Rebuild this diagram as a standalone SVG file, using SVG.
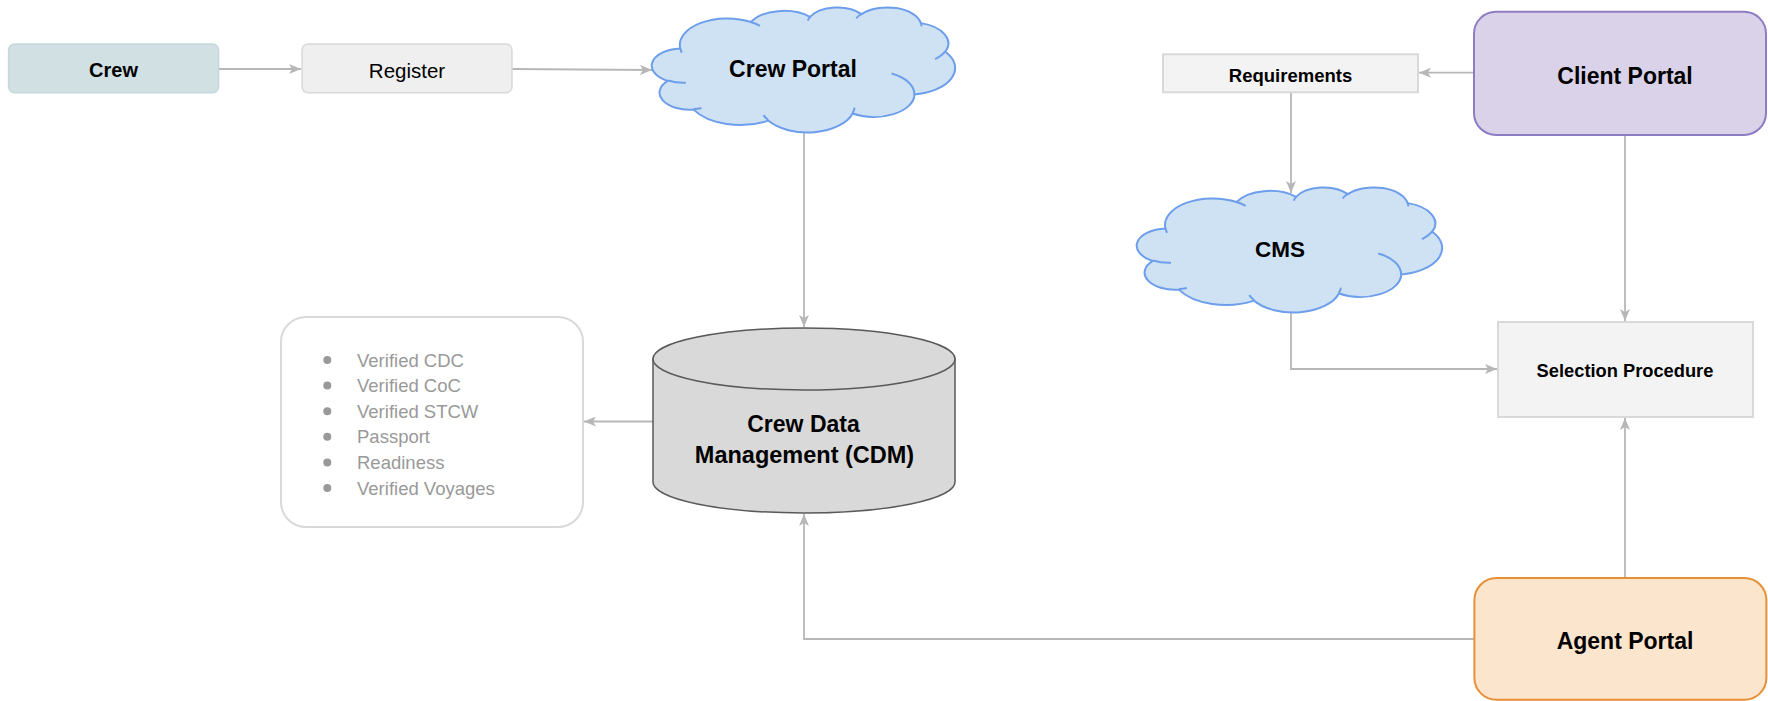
<svg xmlns="http://www.w3.org/2000/svg" width="1768" height="701" viewBox="0 0 1768 701">
<style>
.t{font-family:"Liberation Sans",Arial,sans-serif;text-anchor:middle;dominant-baseline:central;fill:#000}
.b{font-weight:bold}
.li{font-family:"Liberation Sans",Arial,sans-serif;font-size:18.5px;fill:#999999;dominant-baseline:central}
.conn{fill:none;stroke:#b7b7b7;stroke-width:1.8}
.cloud{fill:#cfe2f3;stroke:#6d9eeb;stroke-width:2;vector-effect:non-scaling-stroke}
.cloudin{fill:none;stroke:#6d9eeb;stroke-width:2;vector-effect:non-scaling-stroke}
.grey{fill:#f3f3f3;stroke:#d9d9d9;stroke-width:2}
</style>
<defs>
<marker id="ah" viewBox="0 0 12 10" refX="12" refY="5" markerWidth="12" markerHeight="10" markerUnits="userSpaceOnUse" orient="auto">
<path d="M0,0 L12,5 L0,10 L3,5 z" fill="#b7b7b7"/>
</marker>
</defs>

<g id="connectors">
<path class="conn" d="M219,69 H301" marker-end="url(#ah)"/>
<path class="conn" d="M512,69 L652,70" marker-end="url(#ah)"/>
<path class="conn" d="M804,132 V327" marker-end="url(#ah)"/>
<path class="conn" d="M653,421.5 H584" marker-end="url(#ah)"/>
<path class="conn" d="M1474,639 H804 V514" marker-end="url(#ah)"/>
<path class="conn" d="M1474,72.7 H1419" marker-end="url(#ah)"/>
<path class="conn" d="M1291,93 V193" marker-end="url(#ah)"/>
<path class="conn" d="M1625,135 V321" marker-end="url(#ah)"/>
<path class="conn" d="M1291,311 V369 H1497" marker-end="url(#ah)"/>
<path class="conn" d="M1625,578 V418" marker-end="url(#ah)"/>
</g>

<g id="crew">
<rect x="8.6" y="44" width="210" height="48.7" rx="6" fill="#d0e0e3" stroke="#c6d8dc" stroke-width="1.5"/>
<text class="t b" x="113.5" y="70" font-size="20">Crew</text>
</g>

<g id="register">
<rect x="302" y="44" width="210" height="48.7" rx="6" fill="#efefef" stroke="#d9d9d9" stroke-width="1.5"/>
<text class="t" x="407" y="70" font-size="20.5">Register</text>
</g>

<g id="crew-portal">
<g transform="translate(653,7) scale(0.0069907,0.0028935)">
<path class="cloud" d="M3900,14370 A6753,9190 0 0 1 14005,5202 A5333,7267 0 0 1 22455,3433 A4365,5945 0 0 1 29832,2481 A4857,6595 0 0 1 38317,5575 A5333,7273 0 0 1 41818,15459 A6775,9220 0 0 1 37403,30200 A5785,7867 0 0 1 28554,36810 A6752,9215 0 0 1 16479,39264 A7720,10543 0 0 1 5803,35469 A4360,5918 0 0 1 2112,25547 A4345,5945 0 0 1 3900,14370 Z"/>
<path class="cloudin" d="M4693,26177 A4345,5945 0 0 1 2160,25381 M6928,34899 A4360,5918 0 0 1 5820,35281 M16478,39090 A6752,9215 0 0 1 15810,37349 M28827,34751 A6752,9215 0 0 1 28561,36660 M34129,22954 A5785,7867 0 0 1 37380,30090 M41798,15354 A5333,7273 0 0 1 40350,18030 M38324,5426 A4857,6595 0 0 1 38401,6690 M29078,3952 A4857,6595 0 0 1 29820,2339 M22141,4720 A4365,5945 0 0 1 22500,3331 M14000,5192 A6753,9190 0 0 1 15300,6540 M4127,15789 A6753,9190 0 0 1 3900,14370"/>
</g>
<text class="t b" x="793" y="68.5" font-size="23">Crew Portal</text>
</g>

<g id="requirements">
<rect class="grey" x="1163" y="54.3" width="255" height="38" stroke-width="1.5"/>
<text class="t b" x="1290.5" y="75" font-size="18.5">Requirements</text>
</g>

<g id="client-portal">
<rect x="1474" y="11.7" width="292" height="123.3" rx="22" fill="#d9d2e9" stroke="#8e7cc3" stroke-width="2"/>
<text class="t b" x="1625" y="75.5" font-size="23">Client Portal</text>
</g>

<g id="cms">
<g transform="translate(1138,187) scale(0.0070370,0.0028935)">
<path class="cloud" d="M3900,14370 A6753,9190 0 0 1 14005,5202 A5333,7267 0 0 1 22455,3433 A4365,5945 0 0 1 29832,2481 A4857,6595 0 0 1 38317,5575 A5333,7273 0 0 1 41818,15459 A6775,9220 0 0 1 37403,30200 A5785,7867 0 0 1 28554,36810 A6752,9215 0 0 1 16479,39264 A7720,10543 0 0 1 5803,35469 A4360,5918 0 0 1 2112,25547 A4345,5945 0 0 1 3900,14370 Z"/>
<path class="cloudin" d="M4693,26177 A4345,5945 0 0 1 2160,25381 M6928,34899 A4360,5918 0 0 1 5820,35281 M16478,39090 A6752,9215 0 0 1 15810,37349 M28827,34751 A6752,9215 0 0 1 28561,36660 M34129,22954 A5785,7867 0 0 1 37380,30090 M41798,15354 A5333,7273 0 0 1 40350,18030 M38324,5426 A4857,6595 0 0 1 38401,6690 M29078,3952 A4857,6595 0 0 1 29820,2339 M22141,4720 A4365,5945 0 0 1 22500,3331 M14000,5192 A6753,9190 0 0 1 15300,6540 M4127,15789 A6753,9190 0 0 1 3900,14370"/>
</g>
<text class="t b" x="1280" y="249.5" font-size="22.5">CMS</text>
</g>

<g id="cdm">
<path d="M653,359 V482 A151,31 0 0 0 955,482 V359 Z" fill="#d9d9d9" stroke="#595959" stroke-width="1.5"/>
<ellipse cx="804" cy="359" rx="151" ry="31" fill="#d9d9d9" stroke="#595959" stroke-width="1.5"/>
<text class="t b" x="803.5" y="424" font-size="23">Crew Data</text>
<text class="t b" x="804.5" y="455" font-size="23.5">Management (CDM)</text>
</g>

<g id="crew-data-list">
<rect x="281" y="317" width="302" height="210" rx="25" fill="#ffffff" stroke="#d9d9d9" stroke-width="2"/>
<g fill="#999999">
<circle cx="327.3" cy="360" r="4"/>
<circle cx="327.3" cy="385.6" r="4"/>
<circle cx="327.3" cy="411.2" r="4"/>
<circle cx="327.3" cy="436.8" r="4"/>
<circle cx="327.3" cy="462.4" r="4"/>
<circle cx="327.3" cy="488" r="4"/>
</g>
<text class="li" x="357" y="360">Verified CDC</text>
<text class="li" x="357" y="385.6">Verified CoC</text>
<text class="li" x="357" y="411.2">Verified STCW</text>
<text class="li" x="357" y="436.8">Passport</text>
<text class="li" x="357" y="462.4">Readiness</text>
<text class="li" x="357" y="488">Verified Voyages</text>
</g>

<g id="selection-procedure">
<rect class="grey" x="1498" y="322" width="255" height="95"/>
<text class="t b" x="1625" y="370.3" font-size="18.3">Selection Procedure</text>
</g>

<g id="agent-portal">
<rect x="1474.4" y="578" width="292" height="121.8" rx="22" fill="#fce5cd" stroke="#e69138" stroke-width="2"/>
<text class="t b" x="1625" y="641.3" font-size="23">Agent Portal</text>
</g>
</svg>
